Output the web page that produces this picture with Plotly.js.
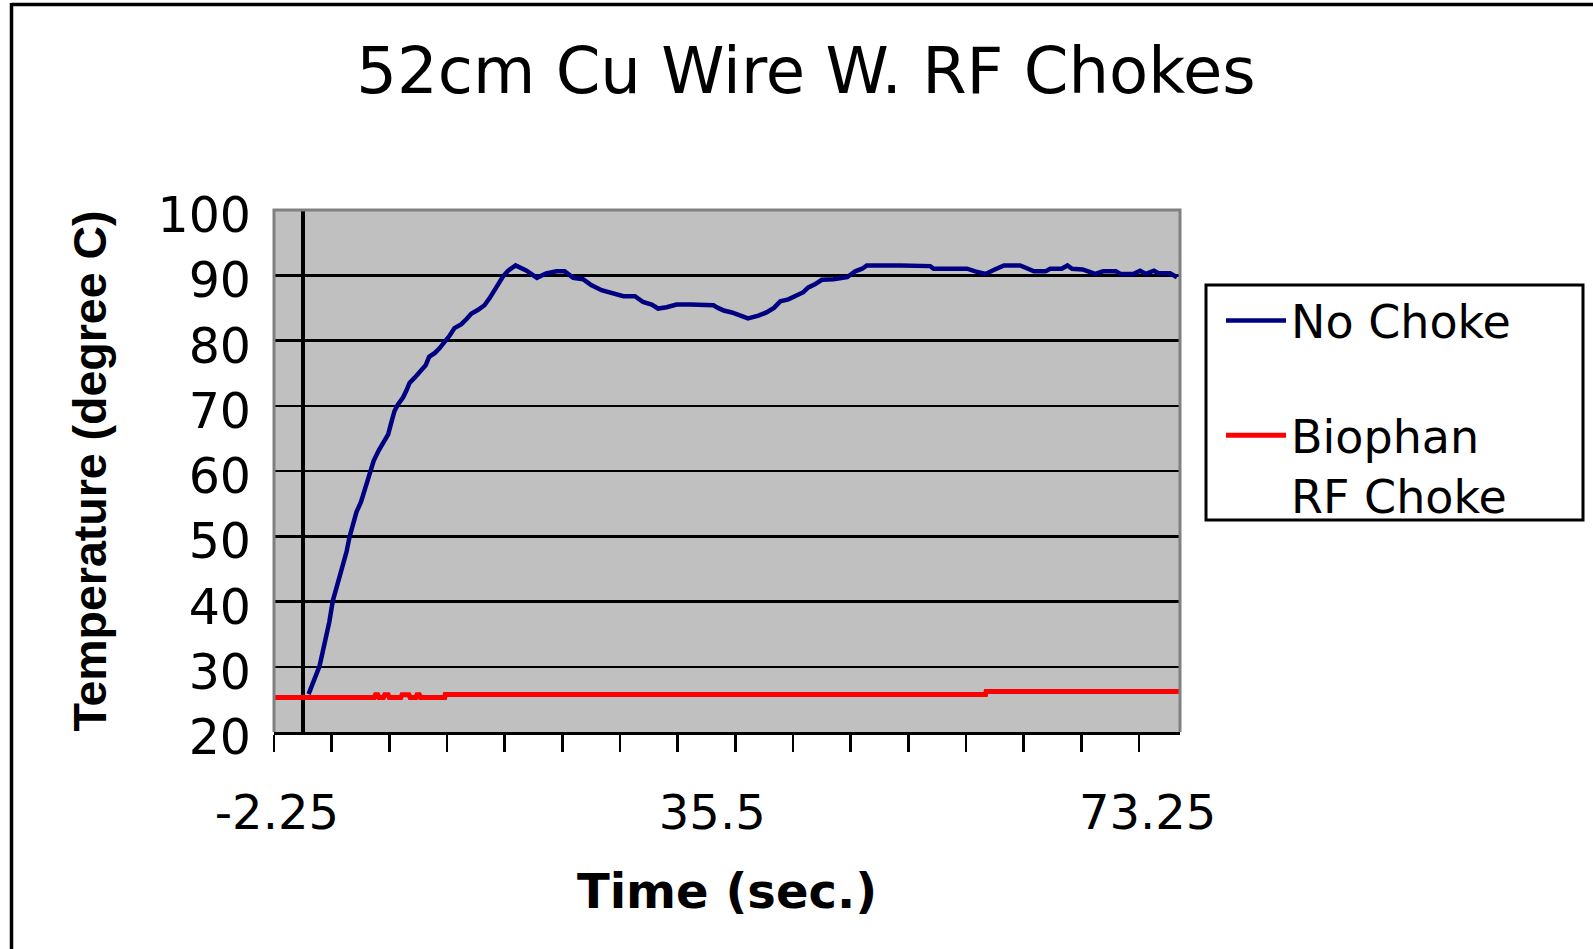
<!DOCTYPE html>
<html>
<head>
<meta charset="utf-8">
<script src="https://cdn.plot.ly/plotly-3.0.1.min.js"></script>
<style>
  html, body { margin: 0; padding: 0; background: #ffffff; }
  #chart { width: 1593px; height: 949px; }
</style>
</head>
<body>
<div id="chart"></div>
<script>
// ---- Data ----
const noChokeTime = [0.5, 0.9, 1.45, 1.75, 2.05, 2.3, 2.6, 2.9, 3.2, 3.5, 3.8, 4.05, 4.35, 4.65, 5.05, 5.45, 5.8, 6.15, 6.6, 6.95,
  7.4, 7.65, 7.95, 8.25, 8.7, 9.0, 9.25, 9.7, 10.15, 10.65, 10.95, 11.45, 11.85, 12.3, 12.75, 13.15, 13.75, 14.2, 14.6, 15.2,
  15.75, 16.2, 16.65, 17.0, 17.35, 17.8, 18.45, 19.4, 20.3, 21.1, 22.0, 22.7, 23.45, 24.3, 25.0, 25.9, 26.8, 27.8, 28.8, 29.5,
  30.25, 30.8, 31.55, 32.4, 33.6, 34.7, 35.6, 36.0, 36.5, 37.2, 37.9, 38.6, 39.5, 40.2, 40.85, 41.4, 42.1, 42.8, 43.4, 43.8,
  44.4, 45.0, 46.0, 47.2, 47.9, 48.5, 48.9, 51.8, 54.4, 54.7, 57.6, 58.3, 59.2, 59.9, 60.8, 62.2, 62.8, 63.4, 64.4, 64.8,
  65.8, 66.3, 66.7, 67.6, 68.1, 68.7, 69.4, 70.5, 70.9, 72.0, 72.6, 73.1, 73.8, 74.2, 75.2, 75.8];
const noChokeTemp = [25.8, 27.7, 30.1, 32.5, 34.7, 36.9, 40.1, 42.0, 43.7, 45.6, 47.7, 49.9, 52.1, 53.7, 55.3, 57.5, 59.7, 61.6, 63.2, 64.3,
  65.6, 67.3, 69.2, 70.2, 71.3, 72.4, 73.5, 74.3, 75.1, 76.2, 77.5, 78.1, 78.8, 79.7, 80.8, 81.9, 82.5, 83.3, 84.1, 84.7,
  85.4, 86.5, 87.9, 89.0, 89.8, 90.7, 91.5, 90.7, 89.6, 90.3, 90.6, 90.6, 89.6, 89.4, 88.5, 87.7, 87.2, 86.8, 86.8, 85.9,
  85.5, 84.9, 85.1, 85.5, 85.5, 85.5, 85.4, 85.0, 84.6, 84.3, 83.8, 83.4, 83.8, 84.3, 85.0, 86.0, 86.3, 86.8, 87.4, 88.1,
  88.6, 89.3, 89.4, 89.7, 90.6, 91.0, 91.5, 91.5, 91.4, 91.0, 91.0, 90.6, 90.2, 90.8, 91.5, 91.5, 91.0, 90.6, 90.6, 91.0,
  91.0, 91.5, 91.0, 90.9, 90.6, 90.2, 90.6, 90.6, 90.2, 90.2, 90.7, 90.2, 90.7, 90.3, 90.3, 89.7];

const biophanTime = [-2.5, 6.2, 6.3, 6.5, 6.6, 7.0, 7.1, 7.4, 7.5, 8.5, 8.6, 9.2, 9.3, 9.8, 9.9, 10.1, 10.2, 12.3, 12.35, 59.2, 59.25, 76.0];
const biophanTemp = [25.3, 25.3, 25.7, 25.7, 25.3, 25.3, 25.7, 25.7, 25.3, 25.3, 25.7, 25.7, 25.3, 25.3, 25.7, 25.7, 25.3, 25.3, 25.75, 25.75, 26.2, 26.2];

const seriesNames = ["No Choke", "Biophan<br>RF Choke"];
const xTickValues = [-2.25, 35.5, 73.25];
const xTickLabels = ["-2.25", "35.5", "73.25"];
const yTickValues = [20, 30, 40, 50, 60, 70, 80, 90, 100];

const chartTitle = "52cm Cu Wire W. RF Chokes";
const xTitle = "Time (sec.)";
const yTitle = "Temperature (degree C)";

// ---- Figure ----
const traces = [
  { x: noChokeTime, y: noChokeTemp, type: "scatter", mode: "lines", name: seriesNames[0],
    legendgroup: "a", line: { color: "#000080", width: 4.5 }, hoverinfo: "x+y" },
  { x: biophanTime, y: biophanTemp, type: "scatter", mode: "lines", name: seriesNames[1],
    legendgroup: "b", line: { color: "#ff0000", width: 5 }, hoverinfo: "x+y" }
];

const W = 1593, H = 949;
const L = 274, R = 413, T = 210, B = 217;
const pw = W - L - R, ph = H - T - B;
const px = v => (v - L) / pw;          // page x -> paper x
const py = v => (H - B - v) / ph;      // page y -> paper y

const layout = {
  width: W, height: H,
  margin: { l: L, r: R, t: T, b: B, pad: 0 },
  paper_bgcolor: "#ffffff",
  plot_bgcolor: "#c0c0c0",
  font: { family: "DejaVu Sans", color: "#000000" },
  title: {
    text: chartTitle,
    font: { family: "DejaVu Sans", size: 64, color: "#000000" },
    xref: "container", yref: "container",
    x: 806 / W, xanchor: "center",
    y: 1 - 71 / H, yanchor: "middle"
  },
  xaxis: {
    type: "linear",
    range: [-2.5, 76.06],
    tickmode: "array",
    tickvals: xTickValues,
    ticktext: xTickLabels,
    ticks: "",
    ticklabelstandoff: 37,
    tickfont: { family: "DejaVu Sans", size: 48, color: "#000000" },
    showgrid: false,
    zeroline: true, zerolinecolor: "#000000", zerolinewidth: 3.5,
    showline: true, linecolor: "#000000", linewidth: 2.5,
    minor: { tick0: -2.5, dtick: 5, ticks: "outside", ticklen: 17, tickwidth: 2.5, tickcolor: "#000000", showgrid: false },
    title: { text: xTitle, font: { family: "DejaVu Sans", size: 48, color: "#000000", weight: "bold" }, standoff: 36 },
    fixedrange: true
  },
  yaxis: {
    range: [20, 100],
    tickmode: "array",
    tickvals: yTickValues,
    ticks: "",
    ticklabelstandoff: 22,
    ticklabelshift: 5,
    tickfont: { family: "DejaVu Sans", size: 49, color: "#000000" },
    showgrid: true, gridcolor: "#000000", gridwidth: 2.5,
    zeroline: false,
    showline: false,
    title: { text: yTitle, font: { family: "Liberation Sans", size: 46.5, color: "#000000", weight: "bold" }, standoff: 36 },
    fixedrange: true
  },
  showlegend: true,
  legend: {
    x: px(1221), xanchor: "left",
    y: py(284), yanchor: "top",
    bgcolor: "rgba(0,0,0,0)",
    borderwidth: 0,
    font: { family: "DejaVu Sans", size: 46, color: "#000000" },
    traceorder: "grouped",
    tracegroupgap: 52,
    itemwidth: 60,
    valign: "top"
  },
  shapes: [
    // grey plot-area frame (left, top, right)
    { type: "path", xref: "paper", yref: "paper",
      path: "M 0,0 L 0,1 L 1,1 L 1,0", line: { color: "#808080", width: 3 }, layer: "above" },
    // legend box
    { type: "rect", xref: "paper", yref: "paper", x0: px(1206), x1: px(1583), y0: py(285), y1: py(520),
      line: { color: "#000000", width: 3 }, fillcolor: "#ffffff", layer: "above" },
    // outer chart frame (top and left edges visible)
    { type: "line", xref: "paper", yref: "paper", x0: px(11.5), x1: px(W + 5), y0: py(4.5), y1: py(4.5),
      line: { color: "#000000", width: 3.5 } },
    { type: "line", xref: "paper", yref: "paper", x0: px(11.5), x1: px(11.5), y0: py(3), y1: py(H + 5),
      line: { color: "#000000", width: 3.5 } }
  ],
  hovermode: false
};

Plotly.newPlot("chart", traces, layout, { displayModeBar: false, staticPlot: true });
</script>
</body>
</html>
